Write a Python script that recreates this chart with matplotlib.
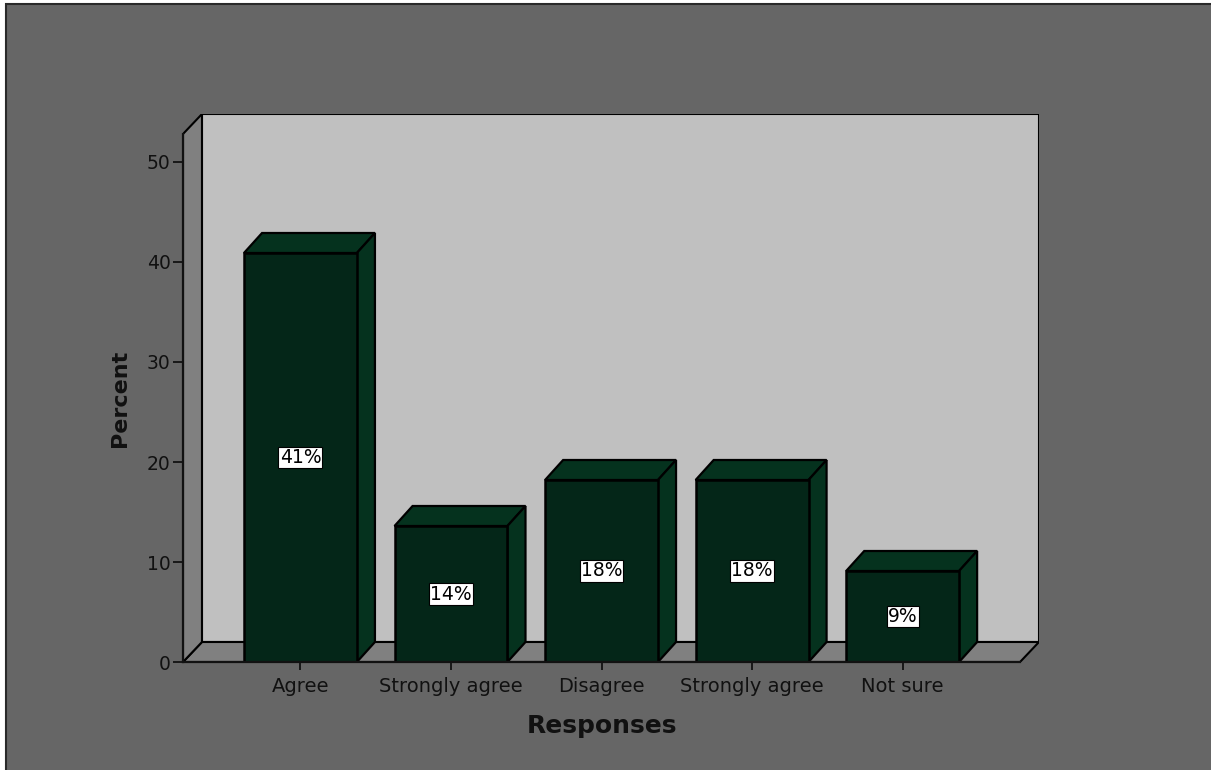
import matplotlib
matplotlib.use('Agg')
from matplotlib import pyplot as plt
from matplotlib.patches import Rectangle, Polygon

plt.rcParams['font.family'] = ['DejaVu Sans']

# survey results
responses = ['Agree', 'Strongly agree', 'Disagree', 'Strongly agree', 'Not sure']
percent = [40.9, 13.6, 18.2, 18.2, 9.1]
yticks = [0, 10, 20, 30, 40, 50]

# colours
bg = '#666666'
wall = '#c0c0c0'
side = '#808080'
bar_front = '#042618'
bar_top = '#05321e'

# 3d look: depth offsets in data units
depth_x = 0.126
depth_y = 2.0
bar_w = 0.75
x_lo, x_hi = -0.78, len(responses) - 1 + 0.78
y_top = 52.8

fig = plt.figure(figsize=(12.11, 7.70), dpi=100, facecolor='white')
# panel background, running off the right and bottom edges
fig.add_artist(Rectangle((6/1211, -0.02), 1.02, 766/770 + 0.02, transform=fig.transFigure,
                         fc=bg, ec='#2a2a2a', lw=1.5, zorder=0))

ax = fig.add_axes([183/1211, 108/770, 856/1211, 548/770])
ax.set_facecolor('none')
ax.set_xlim(x_lo, x_hi + depth_x)
ax.set_ylim(0, y_top + depth_y)

# walls and floor
ax.add_patch(Polygon([(x_lo + depth_x, depth_y), (x_hi + depth_x, depth_y),
                      (x_hi + depth_x, y_top + depth_y), (x_lo + depth_x, y_top + depth_y)],
                     closed=True, fc=wall, ec='black', lw=1.5, zorder=1))
ax.add_patch(Polygon([(x_lo, 0), (x_hi, 0), (x_hi + depth_x, depth_y), (x_lo + depth_x, depth_y)],
                     closed=True, fc=side, ec='black', lw=1.5, zorder=1))
ax.add_patch(Polygon([(x_lo, 0), (x_lo + depth_x, depth_y), (x_lo + depth_x, y_top + depth_y), (x_lo, y_top)],
                     closed=True, fc=side, ec='black', lw=1.5, zorder=1))

# bars
bdx = 0.12
for i, v in enumerate(percent):
    l, r = i - bar_w/2, i + bar_w/2
    ax.add_patch(Polygon([(l, v), (r, v), (r + bdx, v + depth_y), (l + bdx, v + depth_y)],
                         closed=True, fc=bar_top, ec='black', lw=1.6, zorder=3))
    ax.add_patch(Polygon([(r, 0), (r + bdx, depth_y), (r + bdx, v + depth_y), (r, v)],
                         closed=True, fc=bar_top, ec='black', lw=1.6, zorder=3))
    ax.add_patch(Rectangle((l, 0), bar_w, v, fc=bar_front, ec='black', lw=1.8, zorder=4))
    ax.text(i, v/2, '%.0f%%' % v, ha='center', va='center', fontsize=13.5, color='black', zorder=6,
            bbox=dict(boxstyle='square,pad=0.06', fc='white', ec='black', lw=0.8))

# axes
for s in ['top', 'right']:
    ax.spines[s].set_visible(False)
ax.spines['left'].set_bounds(0, y_top)
ax.spines['bottom'].set_bounds(x_lo, x_hi)
for s in ['left', 'bottom']:
    ax.spines[s].set_linewidth(1.6)
    ax.spines[s].set_color('#111111')
    ax.spines[s].set_zorder(5)
ax.set_yticks(yticks)
ax.set_xticks(range(len(responses)))
ax.set_xticklabels(responses)
ax.tick_params(axis='y', length=7, width=1.3, pad=2, labelsize=13.5, colors='#111111')
ax.tick_params(axis='x', length=6, width=1.3, pad=5, labelsize=14, colors='#111111')

ax.set_ylabel('Percent', fontsize=16, fontweight='bold', color='#111111')
ax.yaxis.set_label_coords((130 - 183)/856, (662 - 398)/548)
ax.set_xlabel('Responses', fontsize=18, fontweight='bold', color='#111111')
ax.xaxis.set_label_coords((2.0 - x_lo)/(x_hi + depth_x - x_lo), (662 - 714)/548)

fig.savefig('out.png', dpi=100, facecolor=fig.get_facecolor())
